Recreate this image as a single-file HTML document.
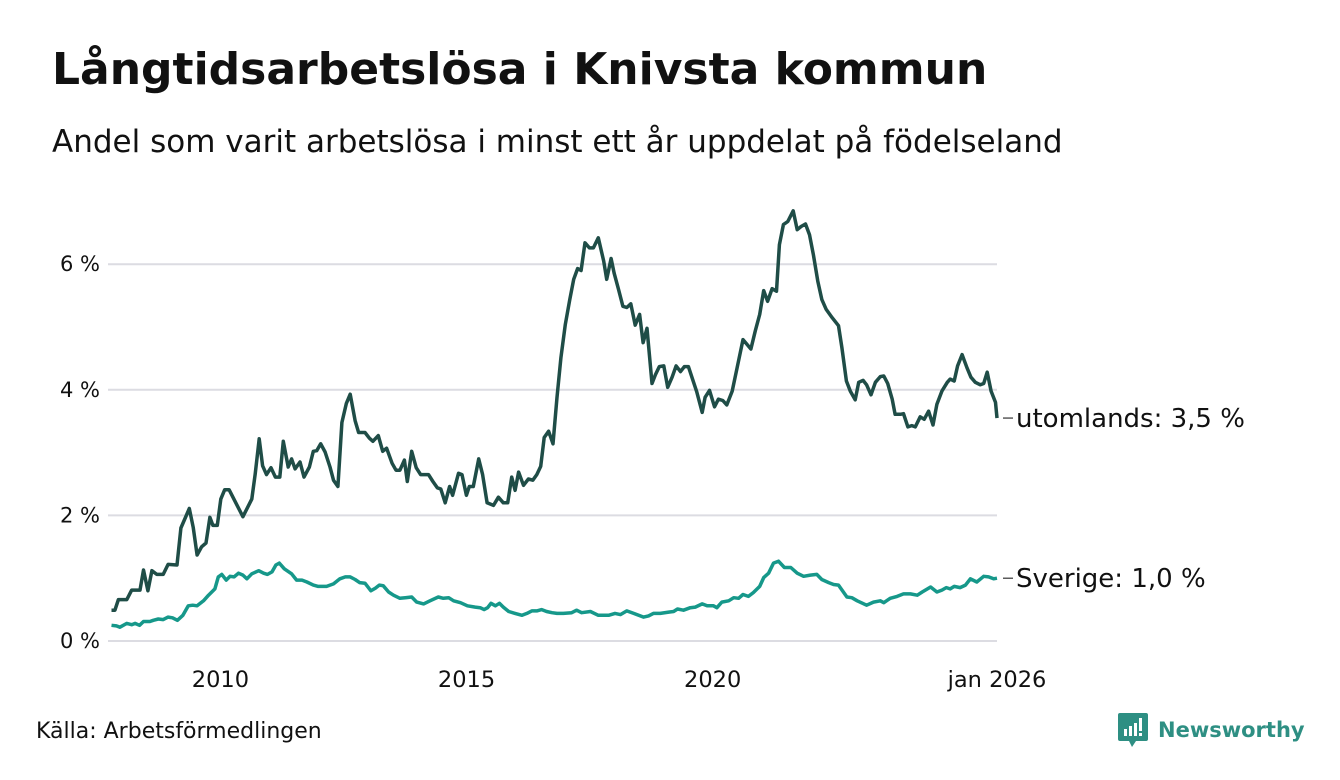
<!DOCTYPE html>
<html><head><meta charset="utf-8"><style>
body{margin:0;width:1340px;height:780px;background:#fff;font-family:"DejaVu Sans","Liberation Sans",sans-serif;overflow:hidden;position:relative}
#title{position:absolute;left:52px;top:44px;font-size:44px;font-weight:bold;color:#111;margin:0;white-space:nowrap}
#sub{position:absolute;left:52px;top:124px;font-size:31px;color:#111;white-space:nowrap}
#src{position:absolute;left:36px;top:719px;font-size:22px;color:#111}
#logo{position:absolute;left:1118px;top:713px;display:flex;align-items:center}
#logo span{font-size:21px;font-weight:bold;color:#2e8f83;margin-left:10px}
svg text{font-family:"DejaVu Sans","Liberation Sans",sans-serif}
</style></head><body>
<h1 id="title">Långtidsarbetslösa i Knivsta kommun</h1>
<div id="sub">Andel som varit arbetslösa i minst ett år uppdelat på födelseland</div>
<svg id="chart" width="1340" height="780" style="position:absolute;left:0;top:0"></svg>
<div id="src">Källa: Arbetsförmedlingen</div>
<div id="logo">
<svg width="30" height="34" viewBox="0 0 30 34"><path d="M2 0h26a2 2 0 0 1 2 2v24a2 2 0 0 1-2 2H18l-4 6-3-6H2a2 2 0 0 1-2-2V2a2 2 0 0 1 2-2z" fill="#2e8f83"/><rect x="6" y="16" width="3" height="7" fill="#fff"/><rect x="11" y="13" width="3" height="10" fill="#fff"/><rect x="16" y="10" width="3" height="13" fill="#fff"/><rect x="21" y="5" width="3" height="13" fill="#fff"/><rect x="21" y="20" width="3" height="3" fill="#fff"/></svg>
<span>Newsworthy</span></div>
<script>
const yTicks=[0,2,4,6];
const yTickLabels=["0 %","2 %","4 %","6 %"];
const xTicks=[2010,2015,2020,2026];
const xTickLabels=["2010","2015","2020","jan 2026"];
const utYears=[2008.01,2008.08,2008.15,2008.32,2008.42,2008.59,2008.66,2008.75,2008.83,2008.93,2009.06,2009.16,2009.34,2009.42,2009.59,2009.67,2009.75,2009.84,2009.93,2010.01,2010.07,2010.16,2010.23,2010.31,2010.40,2010.68,2010.86,2010.93,2011.01,2011.08,2011.16,2011.25,2011.34,2011.43,2011.50,2011.60,2011.67,2011.74,2011.84,2011.92,2012.03,2012.11,2012.18,2012.26,2012.35,2012.45,2012.52,2012.61,2012.69,2012.78,2012.86,2012.96,2013.03,2013.16,2013.25,2013.32,2013.43,2013.52,2013.60,2013.71,2013.79,2013.87,2013.96,2014.02,2014.11,2014.20,2014.29,2014.45,2014.54,2014.63,2014.70,2014.79,2014.88,2014.94,2015.06,2015.13,2015.22,2015.28,2015.36,2015.47,2015.55,2015.64,2015.77,2015.87,2015.97,2016.06,2016.14,2016.21,2016.28,2016.38,2016.48,2016.57,2016.65,2016.73,2016.80,2016.89,2016.98,2017.06,2017.14,2017.23,2017.32,2017.40,2017.48,2017.55,2017.63,2017.72,2017.80,2017.90,2018.01,2018.07,2018.16,2018.22,2018.31,2018.40,2018.48,2018.56,2018.65,2018.74,2018.81,2018.89,2018.99,2019.06,2019.14,2019.23,2019.31,2019.40,2019.48,2019.57,2019.65,2019.73,2019.90,2020.01,2020.07,2020.16,2020.26,2020.34,2020.43,2020.51,2020.62,2020.72,2020.84,2021.00,2021.09,2021.18,2021.26,2021.34,2021.43,2021.52,2021.58,2021.66,2021.75,2021.86,2021.94,2022.02,2022.11,2022.19,2022.27,2022.36,2022.44,2022.53,2022.65,2022.78,2022.85,2022.94,2023.02,2023.12,2023.19,2023.28,2023.35,2023.44,2023.53,2023.63,2023.70,2023.78,2023.87,2023.93,2024.04,2024.10,2024.19,2024.27,2024.34,2024.44,2024.52,2024.61,2024.70,2024.78,2024.88,2024.99,2025.05,2025.13,2025.20,2025.29,2025.39,2025.47,2025.56,2025.66,2025.73,2025.80,2025.88,2025.97,2026.0];
const utValues=[0.49,0.49,0.66,0.66,0.81,0.81,1.13,0.80,1.12,1.06,1.06,1.22,1.21,1.80,2.11,1.81,1.37,1.50,1.56,1.97,1.84,1.84,2.26,2.41,2.41,1.98,2.26,2.66,3.22,2.79,2.65,2.76,2.61,2.61,3.18,2.77,2.90,2.74,2.85,2.61,2.77,3.02,3.03,3.14,3.01,2.77,2.56,2.46,3.48,3.78,3.93,3.51,3.32,3.32,3.23,3.18,3.27,3.02,3.07,2.83,2.72,2.72,2.88,2.54,3.02,2.76,2.65,2.65,2.54,2.44,2.42,2.20,2.46,2.32,2.67,2.65,2.32,2.46,2.46,2.90,2.65,2.20,2.16,2.29,2.20,2.20,2.61,2.40,2.69,2.48,2.58,2.56,2.65,2.78,3.24,3.34,3.14,3.88,4.51,5.04,5.44,5.76,5.93,5.90,6.34,6.26,6.26,6.42,6.05,5.76,6.09,5.86,5.60,5.33,5.31,5.37,5.03,5.20,4.75,4.98,4.10,4.24,4.37,4.38,4.04,4.20,4.38,4.29,4.37,4.37,3.97,3.64,3.88,3.99,3.73,3.85,3.83,3.76,3.98,4.35,4.80,4.65,4.94,5.20,5.58,5.41,5.61,5.57,6.31,6.63,6.68,6.85,6.55,6.60,6.64,6.47,6.15,5.73,5.44,5.28,5.15,5.02,4.67,4.14,3.98,3.84,4.12,4.15,4.08,3.92,4.12,4.21,4.22,4.10,3.85,3.61,3.61,3.62,3.41,3.43,3.41,3.57,3.53,3.66,3.44,3.77,3.98,4.12,4.17,4.14,4.38,4.56,4.35,4.20,4.12,4.08,4.10,4.28,3.98,3.80,3.55];
const svYears=[2008.01,2008.11,2008.18,2008.32,2008.42,2008.49,2008.58,2008.66,2008.79,2008.86,2008.96,2009.06,2009.16,2009.25,2009.35,2009.46,2009.57,2009.66,2009.75,2009.88,2009.98,2010.11,2010.18,2010.25,2010.34,2010.42,2010.50,2010.59,2010.68,2010.76,2010.86,2011.00,2011.10,2011.18,2011.27,2011.35,2011.42,2011.52,2011.67,2011.77,2011.88,2011.98,2012.11,2012.21,2012.38,2012.52,2012.65,2012.76,2012.86,2012.96,2013.05,2013.16,2013.28,2013.37,2013.45,2013.53,2013.64,2013.74,2013.87,2013.98,2014.11,2014.21,2014.35,2014.48,2014.65,2014.75,2014.86,2014.96,2015.10,2015.24,2015.40,2015.50,2015.58,2015.65,2015.72,2015.81,2015.89,2015.97,2016.08,2016.21,2016.35,2016.45,2016.55,2016.65,2016.75,2016.85,2016.96,2017.06,2017.19,2017.36,2017.46,2017.56,2017.74,2017.90,2018.11,2018.24,2018.35,2018.48,2018.62,2018.82,2018.92,2019.02,2019.16,2019.33,2019.43,2019.51,2019.63,2019.77,2019.87,2020.01,2020.11,2020.24,2020.31,2020.41,2020.55,2020.65,2020.75,2020.84,2020.95,2021.05,2021.18,2021.26,2021.36,2021.46,2021.56,2021.68,2021.81,2021.94,2022.07,2022.21,2022.34,2022.44,2022.58,2022.68,2022.78,2022.95,2023.05,2023.16,2023.35,2023.49,2023.63,2023.70,2023.83,2023.97,2024.10,2024.24,2024.38,2024.48,2024.65,2024.78,2024.88,2024.97,2025.05,2025.13,2025.25,2025.36,2025.46,2025.59,2025.73,2025.83,2025.93,2026.0];
const svValues=[0.25,0.24,0.22,0.28,0.26,0.28,0.25,0.31,0.31,0.33,0.35,0.34,0.38,0.37,0.33,0.41,0.56,0.57,0.56,0.64,0.73,0.83,1.02,1.06,0.97,1.03,1.02,1.08,1.05,0.99,1.07,1.12,1.08,1.06,1.10,1.21,1.24,1.15,1.07,0.97,0.97,0.94,0.89,0.87,0.87,0.91,0.99,1.02,1.02,0.98,0.93,0.92,0.80,0.84,0.89,0.88,0.78,0.73,0.68,0.69,0.70,0.62,0.59,0.64,0.70,0.68,0.69,0.64,0.61,0.56,0.54,0.53,0.50,0.53,0.60,0.56,0.60,0.54,0.47,0.44,0.41,0.44,0.48,0.48,0.50,0.47,0.45,0.44,0.44,0.45,0.49,0.45,0.47,0.41,0.41,0.44,0.42,0.48,0.44,0.38,0.40,0.44,0.44,0.46,0.47,0.51,0.49,0.53,0.54,0.59,0.56,0.56,0.53,0.62,0.64,0.69,0.68,0.74,0.71,0.77,0.87,1.01,1.08,1.24,1.27,1.17,1.17,1.08,1.03,1.05,1.06,0.98,0.93,0.90,0.89,0.70,0.69,0.64,0.57,0.62,0.64,0.61,0.68,0.71,0.75,0.75,0.73,0.78,0.86,0.78,0.81,0.85,0.83,0.87,0.85,0.89,0.99,0.94,1.03,1.02,0.99,1.0];
const utLabel="utomlands: 3,5 %";
const svLabel="Sverige: 1,0 %";

const NS="http://www.w3.org/2000/svg";
const svg=document.getElementById('chart');
const X0=111,X1=997,T0=2008,T1=2026,Y0=641,PPU=62.8;
function x(t){return X0+(t-T0)*(X1-X0)/(T1-T0);}
function y(v){return Y0-v*PPU;}
function mk(tag,attrs){const e=document.createElementNS(NS,tag);for(const k in attrs)e.setAttribute(k,attrs[k]);svg.appendChild(e);return e;}
yTicks.forEach((v,i)=>{
  const g=mk('line',{x1:108,x2:997,y1:y(v),y2:y(v),stroke:'#dcdce2','stroke-width':2});
  
  
  const t=mk('text',{x:100,y:y(v)+7,'text-anchor':'end','font-size':21,fill:'#111'});
  t.textContent=yTickLabels[i];
  
  
});
xTicks.forEach((v,i)=>{
  const last=i===xTicks.length-1;
  const t=mk('text',{x:last?x(v):x(v)+11,y:687,'text-anchor':'middle','font-size':22.5,fill:'#111'});
  t.textContent=xTickLabels[i];
  
  
});
function line(ys,vs,col,name){
  const d=ys.map((t,i)=>(i?'L':'M')+x(t).toFixed(1)+','+y(vs[i]).toFixed(1)).join('');
  const p=mk('path',{d:d,fill:'none',stroke:col,'stroke-width':3.5,'stroke-linejoin':'round'});
  
  
}
line(svYears,svValues,'#16988a','line-sverige');
line(utYears,utValues,'#1f4d47','line-utomlands');
function lab(vs,txt,name){
  const v=vs[vs.length-1];
  const l=mk('line',{x1:1003,x2:1013,y1:y(v),y2:y(v),stroke:'#333','stroke-width':1.2});
  
  
  const t=mk('text',{x:1016,y:y(v)+9,'font-size':26,fill:'#111'});
  t.textContent=txt;
  
  
}
lab(utValues,utLabel,'label-utomlands');
lab(svValues,svLabel,'label-sverige');
</script>
</body></html>
